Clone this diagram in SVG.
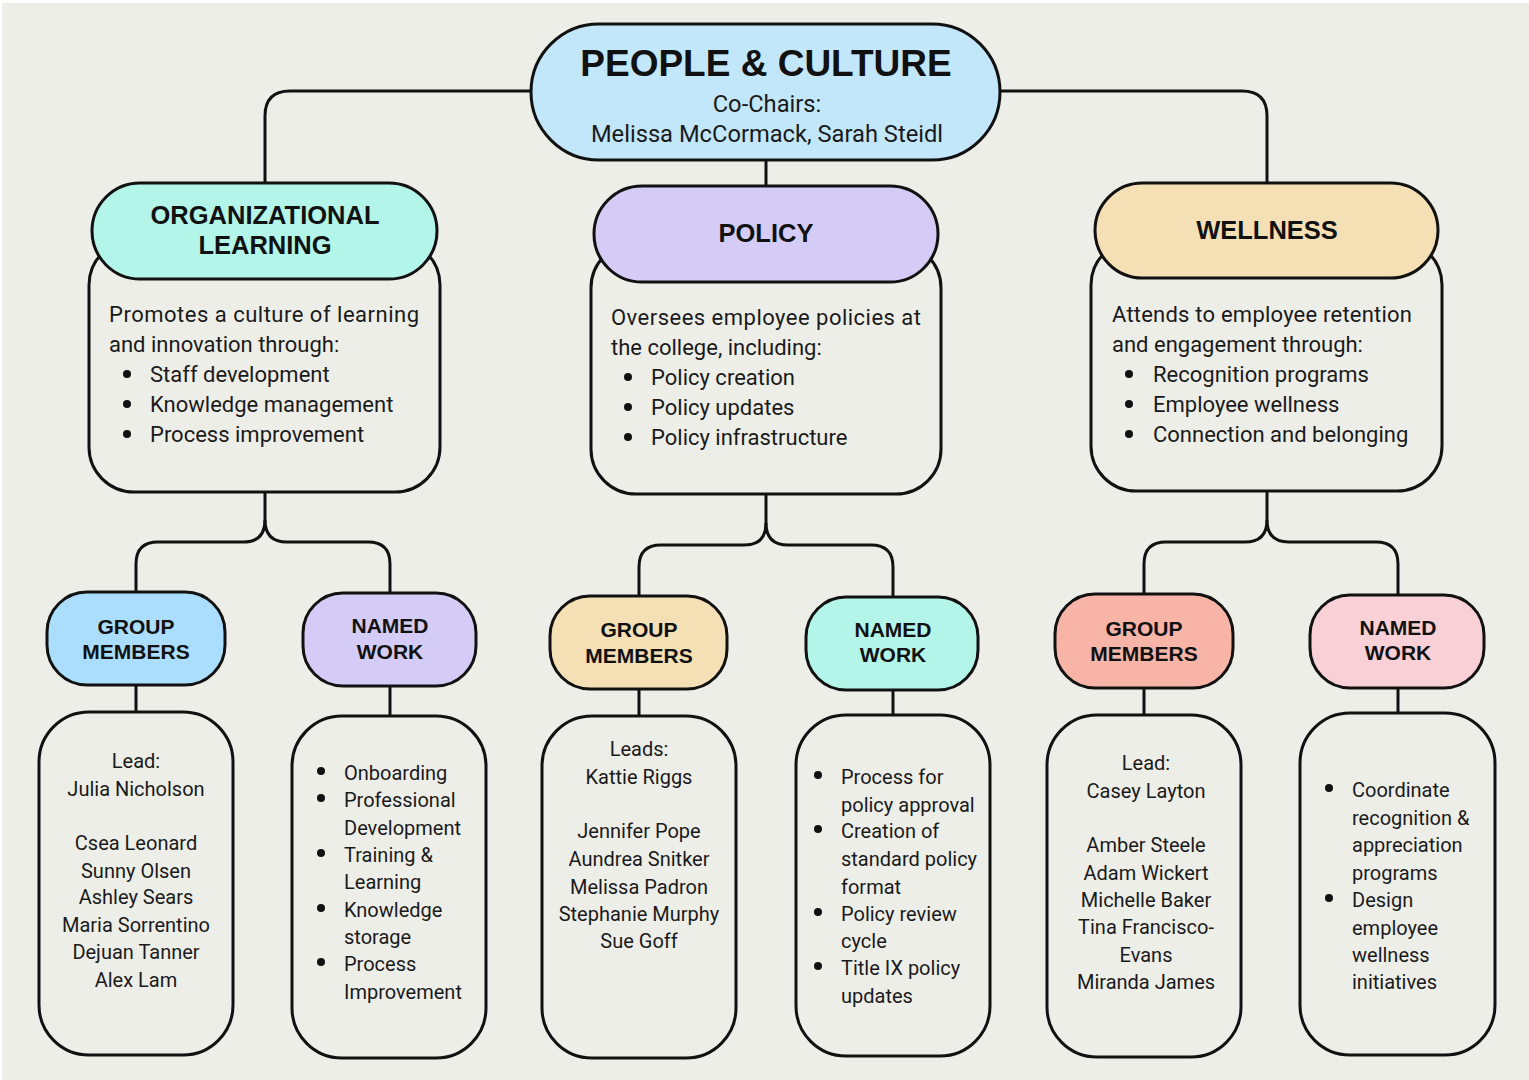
<svg xmlns="http://www.w3.org/2000/svg" width="1529" height="1080" viewBox="0 0 1529 1080">
<style>
.bg{fill:#eeeee9}
.box{stroke:#111;stroke-width:3}
.body{fill:#eeeee9;stroke:#111;stroke-width:3}
.con{fill:none;stroke:#111;stroke-width:3}
.h1{font-family:"Liberation Sans",Arial,sans-serif;font-weight:bold;font-size:37px;fill:#111;text-anchor:middle}
.h2{font-family:"Liberation Sans",Arial,sans-serif;font-weight:bold;font-size:25.5px;fill:#111;text-anchor:middle}
.h3{font-family:"Liberation Sans",Arial,sans-serif;font-weight:bold;font-size:21px;fill:#111;text-anchor:middle}
.t{font-family:Roboto,"Liberation Sans",sans-serif;font-size:22px;fill:#1a1a1a}
.tc{font-family:Roboto,"Liberation Sans",sans-serif;font-size:23.7px;fill:#1a1a1a;text-anchor:middle}
.s{font-family:Roboto,"Liberation Sans",sans-serif;font-size:20px;fill:#1a1a1a}
.c{text-anchor:middle}
.dot{fill:#111}
</style>
<rect x="0" y="0" width="1529" height="1080" fill="#ffffff"/>
<rect class="bg" x="2" y="3" width="1527" height="1077"/>

<g id="connectors">
<path class="con" d="M531,91 H290 Q265,91 265,116 V183"/>
<path class="con" d="M1000,91 H1242 Q1267,91 1267,116 V183"/>
<path class="con" d="M766,160 V186"/>
<path class="con" d="M265,492 V520 Q265,542 243,542 H158 Q136,542 136,564 V592"/>
<path class="con" d="M265,520 Q265,542 287,542 H368 Q390,542 390,564 V593"/>
<path class="con" d="M136,685 V712"/>
<path class="con" d="M390,686 V716"/>
<path class="con" d="M766,494 V523 Q766,545 744,545 H661 Q639,545 639,567 V596"/>
<path class="con" d="M766,523 Q766,545 788,545 H871 Q893,545 893,567 V597"/>
<path class="con" d="M639,689 V716"/>
<path class="con" d="M893,690 V715"/>
<path class="con" d="M1267,491 V520 Q1267,542 1245,542 H1166 Q1144,542 1144,564 V594"/>
<path class="con" d="M1267,520 Q1267,542 1289,542 H1376 Q1398,542 1398,564 V595"/>
<path class="con" d="M1144,688 V715"/>
<path class="con" d="M1398,688 V713"/>
</g>

<g id="people-culture">
<rect class="box" x="531" y="24" width="469" height="136" rx="68" fill="#c2e7fb"/>
<text class="h1" x="766" y="76">PEOPLE &amp; CULTURE</text>
<text class="tc" x="767" y="112">Co-Chairs:</text>
<text class="tc" x="767" y="142">Melissa McCormack, Sarah Steidl</text>
</g>

<g id="org-learning">
<rect class="body" x="89" y="240" width="351" height="252" rx="45"/>
<rect class="box" x="92" y="183" width="345" height="96" rx="48" fill="#b4f5e9"/>
<text class="h2" x="265" y="224">ORGANIZATIONAL</text>
<text class="h2" x="265" y="254">LEARNING</text>
<text class="t" x="109" y="322" textLength="310" lengthAdjust="spacing">Promotes a culture of learning</text>
<text class="t" x="109" y="352">and innovation through:</text>
<circle class="dot" cx="127" cy="374" r="4"/><text class="t" x="150" y="382">Staff development</text>
<circle class="dot" cx="127" cy="404" r="4"/><text class="t" x="150" y="412">Knowledge management</text>
<circle class="dot" cx="127" cy="434" r="4"/><text class="t" x="150" y="442">Process improvement</text>
</g>

<g id="policy">
<rect class="body" x="591" y="243" width="350" height="251" rx="45"/>
<rect class="box" x="594" y="186" width="344" height="96" rx="48" fill="#d4ccf6"/>
<text class="h2" x="766" y="242">POLICY</text>
<text class="t" x="611" y="325" textLength="310" lengthAdjust="spacing">Oversees employee policies at</text>
<text class="t" x="611" y="355">the college, including:</text>
<circle class="dot" cx="628" cy="377" r="4"/><text class="t" x="651" y="385">Policy creation</text>
<circle class="dot" cx="628" cy="407" r="4"/><text class="t" x="651" y="415">Policy updates</text>
<circle class="dot" cx="628" cy="437" r="4"/><text class="t" x="651" y="445">Policy infrastructure</text>
</g>

<g id="wellness">
<rect class="body" x="1091" y="240" width="351" height="251" rx="45"/>
<rect class="box" x="1095" y="183" width="343" height="95" rx="47.5" fill="#f5e0b6"/>
<text class="h2" x="1267" y="239">WELLNESS</text>
<text class="t" x="1112" y="322" textLength="300" lengthAdjust="spacing">Attends to employee retention</text>
<text class="t" x="1112" y="352">and engagement through:</text>
<circle class="dot" cx="1129" cy="374" r="4"/><text class="t" x="1153" y="382">Recognition programs</text>
<circle class="dot" cx="1129" cy="404" r="4"/><text class="t" x="1153" y="412">Employee wellness</text>
<circle class="dot" cx="1129" cy="434" r="4"/><text class="t" x="1153" y="442">Connection and belonging</text>
</g>

<g id="ol-group-members">
<rect class="box" x="47" y="592" width="178" height="93" rx="40" fill="#abdefd"/>
<text class="h3" x="136" y="634">GROUP</text>
<text class="h3" x="136" y="659">MEMBERS</text>
</g>
<g id="ol-group-members-list">
<rect class="body" x="39" y="712" width="194" height="343" rx="50"/>
<text class="s c" x="136" y="768">Lead:</text>
<text class="s c" x="136" y="796">Julia Nicholson</text>
<text class="s c" x="136" y="850">Csea Leonard</text>
<text class="s c" x="136" y="878">Sunny Olsen</text>
<text class="s c" x="136" y="904">Ashley Sears</text>
<text class="s c" x="136" y="932">Maria Sorrentino</text>
<text class="s c" x="136" y="959">Dejuan Tanner</text>
<text class="s c" x="136" y="987">Alex Lam</text>
</g>

<g id="ol-named-work">
<rect class="box" x="303" y="593" width="173" height="93" rx="40" fill="#d4ccf6"/>
<text class="h3" x="390" y="633">NAMED</text>
<text class="h3" x="390" y="659">WORK</text>
</g>
<g id="ol-named-work-list">
<rect class="body" x="292" y="716" width="194" height="342" rx="50"/>
<circle class="dot" cx="321" cy="771" r="4"/><text class="s" x="344" y="780">Onboarding</text>
<circle class="dot" cx="321" cy="798" r="4"/><text class="s" x="344" y="807">Professional</text>
<text class="s" x="344" y="835">Development</text>
<circle class="dot" cx="321" cy="853" r="4"/><text class="s" x="344" y="862">Training &amp;</text>
<text class="s" x="344" y="889">Learning</text>
<circle class="dot" cx="321" cy="908" r="4"/><text class="s" x="344" y="917">Knowledge</text>
<text class="s" x="344" y="944">storage</text>
<circle class="dot" cx="321" cy="962" r="4"/><text class="s" x="344" y="971">Process</text>
<text class="s" x="344" y="999">Improvement</text>
</g>

<g id="policy-group-members">
<rect class="box" x="550" y="596" width="177" height="93" rx="40" fill="#f5e0b6"/>
<text class="h3" x="639" y="637">GROUP</text>
<text class="h3" x="639" y="663">MEMBERS</text>
</g>
<g id="policy-group-members-list">
<rect class="body" x="542" y="716" width="194" height="342" rx="50"/>
<text class="s c" x="639" y="756">Leads:</text>
<text class="s c" x="639" y="784">Kattie Riggs</text>
<text class="s c" x="639" y="838">Jennifer Pope</text>
<text class="s c" x="639" y="866">Aundrea Snitker</text>
<text class="s c" x="639" y="894">Melissa Padron</text>
<text class="s c" x="639" y="921">Stephanie Murphy</text>
<text class="s c" x="639" y="948">Sue Goff</text>
</g>

<g id="policy-named-work">
<rect class="box" x="806" y="597" width="172" height="93" rx="40" fill="#b4f5e9"/>
<text class="h3" x="893" y="637">NAMED</text>
<text class="h3" x="893" y="662">WORK</text>
</g>
<g id="policy-named-work-list">
<rect class="body" x="796" y="715" width="194" height="341" rx="50"/>
<circle class="dot" cx="818" cy="775" r="4"/><text class="s" x="841" y="784">Process for</text>
<text class="s" x="841" y="812">policy approval</text>
<circle class="dot" cx="818" cy="829" r="4"/><text class="s" x="841" y="838">Creation of</text>
<text class="s" x="841" y="866">standard policy</text>
<text class="s" x="841" y="894">format</text>
<circle class="dot" cx="818" cy="912" r="4"/><text class="s" x="841" y="921">Policy review</text>
<text class="s" x="841" y="948">cycle</text>
<circle class="dot" cx="818" cy="966" r="4"/><text class="s" x="841" y="975">Title IX policy</text>
<text class="s" x="841" y="1003">updates</text>
</g>

<g id="wellness-group-members">
<rect class="box" x="1055" y="594" width="178" height="94" rx="40" fill="#f8b4a6"/>
<text class="h3" x="1144" y="636">GROUP</text>
<text class="h3" x="1144" y="661">MEMBERS</text>
</g>
<g id="wellness-group-members-list">
<rect class="body" x="1047" y="715" width="194" height="342" rx="50"/>
<text class="s c" x="1146" y="770">Lead:</text>
<text class="s c" x="1146" y="798">Casey Layton</text>
<text class="s c" x="1146" y="852">Amber Steele</text>
<text class="s c" x="1146" y="880">Adam Wickert</text>
<text class="s c" x="1146" y="907">Michelle Baker</text>
<text class="s c" x="1146" y="934">Tina Francisco-</text>
<text class="s c" x="1146" y="962">Evans</text>
<text class="s c" x="1146" y="989">Miranda James</text>
</g>

<g id="wellness-named-work">
<rect class="box" x="1310" y="595" width="174" height="93" rx="40" fill="#f8d0d6"/>
<text class="h3" x="1398" y="635">NAMED</text>
<text class="h3" x="1398" y="660">WORK</text>
</g>
<g id="wellness-named-work-list">
<rect class="body" x="1300" y="713" width="195" height="342" rx="50"/>
<circle class="dot" cx="1329" cy="788" r="4"/><text class="s" x="1352" y="797">Coordinate</text>
<text class="s" x="1352" y="825">recognition &amp;</text>
<text class="s" x="1352" y="852">appreciation</text>
<text class="s" x="1352" y="880">programs</text>
<circle class="dot" cx="1329" cy="898" r="4"/><text class="s" x="1352" y="907">Design</text>
<text class="s" x="1352" y="935">employee</text>
<text class="s" x="1352" y="962">wellness</text>
<text class="s" x="1352" y="989">initiatives</text>
</g>
</svg>
